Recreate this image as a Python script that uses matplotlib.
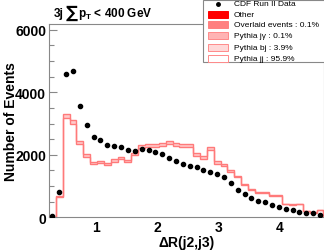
import numpy as np
import matplotlib
matplotlib.use("Agg")
import matplotlib.pyplot as plt
from matplotlib.patches import Rectangle
from matplotlib.lines import Line2D
from matplotlib.ticker import MultipleLocator

plt.rcParams['font.family'] = ['Liberation Sans', 'DejaVu Sans']
plt.rcParams['mathtext.fontset'] = 'custom'
plt.rcParams['mathtext.rm'] = 'Liberation Sans:bold'
plt.rcParams['mathtext.bf'] = 'Liberation Sans:bold'
plt.rcParams['mathtext.it'] = 'Liberation Sans:bold'

# ---- data ----
x_min, x_max, n_bins = 0.225, 4.725, 40
data_counts = [30, 820, 4580, 4690, 3565, 2947, 2553, 2466, 2306, 2284,
               2264, 2168, 2124, 2195, 2150, 2082, 2028, 1885, 1794, 1720,
               1643, 1611, 1520, 1460, 1393, 1304, 1111, 874, 759, 618,
               522, 480, 407, 320, 279, 224, 183, 150, 128, 64]
mc_total = [0, 690, 3300, 3100, 2440, 2020, 1780, 1800, 1750, 1860,
            1940, 1840, 2070, 2300, 2330, 2350, 2390, 2440, 2370, 2340,
            2340, 2060, 1960, 2250, 1790, 1700, 1500, 1330, 1080, 920,
            820, 800, 700, 720, 440, 410, 430, 210, 160, 230]
legend_labels = ["CDF Run II Data", "Other", "Overlaid events : 0.1%",
                 "Pythia j\u03b3 : 0.1%", "Pythia bj : 3.9%", "Pythia jj : 95.9%"]
frac_jj = 0.959

edges = np.linspace(x_min, x_max, n_bins + 1)
centers = 0.5 * (edges[:-1] + edges[1:])
total = np.array(mc_total, dtype=float)
jj = total * frac_jj

W, H = 324, 253
fig = plt.figure(figsize=(W / 100, H / 100), dpi=100)
ax = fig.add_axes([49 / W, 1 - 218.3 / H, (323.5 - 49) / W, (218.3 - 24.5) / H])

line_col = '#ff7a7a'
ax.stairs(total, edges, fill=True, color='#ffcaca', zorder=2)
ax.stairs(jj, edges, fill=True, color='white', zorder=2)
ax.stairs(jj, edges, color=line_col, lw=1.0, zorder=3)
ax.stairs(total, edges, color=line_col, lw=1.0, zorder=3)
ax.plot(centers, data_counts, 'o', color='black', ms=3.0, zorder=4)

ax.set_xlim(x_min, x_max)
ax.set_ylim(0, 6200)
ax.xaxis.set_major_locator(MultipleLocator(1))
ax.xaxis.set_minor_locator(MultipleLocator(0.2))
ax.yaxis.set_major_locator(MultipleLocator(2000))
ax.yaxis.set_minor_locator(MultipleLocator(500))
ax.tick_params(which='both', direction='in', color='#888888', width=0.8,
               top=False, right=False)
ax.tick_params(which='major', length=6, labelsize=10, pad=2)
ax.tick_params(which='minor', length=3.5)
for lab in ax.get_xticklabels() + ax.get_yticklabels():
    lab.set_fontweight('bold')
for s in ax.spines.values():
    s.set_color('#888888')
    s.set_linewidth(0.8)

fig.text(187 / W, 1 - 243 / H, "\u0394R(j2,j3)", ha='center', va='center',
         fontsize=10, fontweight='bold')
fig.text(11 / W, 1 - 122 / H, "Number of Events", ha='center', va='center',
         rotation=90, fontsize=10, fontweight='bold')
fig.text(54 / W, 1 - 14 / H, "3j", ha='left', va='center',
         fontsize=8.5, fontweight='bold')
fig.text(66 / W, 1 - 13 / H, "\u2211", ha='left', va='center',
         fontsize=12, fontweight='bold', family=['DejaVu Sans'])
fig.text(78 / W, 1 - 14 / H, r"p$_\mathregular{T}$ < 400 GeV",
         ha='left', va='center', fontsize=8.5, fontweight='bold')

# ---- legend (manual, ROOT style) ----
def fx(px):
    return px / W

def fy(py):
    return 1 - py / H

fig.patches.append(Rectangle((fx(203), fy(63)), fx(330) - fx(203), fy(0.5) - fy(63),
                             transform=fig.transFigure, facecolor='white',
                             edgecolor='#888888', lw=0.8, zorder=10))
rows = [4.5, 15.3, 25.8, 36.5, 48.5, 59.5]
styles = [None,
          dict(fc='#ff0000', ec='#ff0000'),
          dict(fc='#ff8080', ec='#ff8080'),
          dict(fc='#ffb4b4', ec='#ff8a8a'),
          dict(fc='#ffd8d8', ec='#ff8a8a'),
          dict(fc='white', ec='#ff8a8a')]
for yy, lab, st in zip(rows, legend_labels, styles):
    if st is None:
        fig.lines.append(Line2D([fx(218)], [fy(yy)], marker='o', color='black',
                                ms=2.5, transform=fig.transFigure, zorder=11))
    else:
        fig.patches.append(Rectangle((fx(208), fy(yy + 3.5)), fx(228) - fx(208),
                                     fy(yy - 3.5) - fy(yy + 3.5),
                                     transform=fig.transFigure, lw=0.7,
                                     zorder=11, **st))
    fig.text(fx(234), fy(yy), lab, ha='left', va='center', fontsize=6.0,
             zorder=12)

fig.savefig("out.png", dpi=100)
